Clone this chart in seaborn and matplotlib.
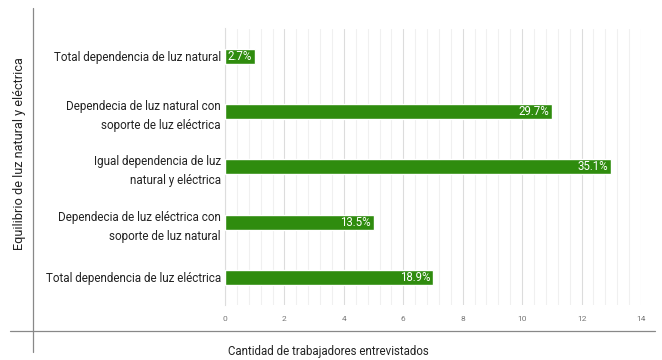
import matplotlib
matplotlib.use("Agg")
import matplotlib.pyplot as plt
from matplotlib.lines import Line2D
from matplotlib.ticker import MultipleLocator
import seaborn as sns
import pandas as pd

categories = [
    "Total dependencia de luz natural",
    "Dependecia de luz natural con\nsoporte de luz eléctrica",
    "Igual dependencia de luz\nnatural y eléctrica",
    "Dependecia de luz eléctrica con\nsoporte de luz natural",
    "Total dependencia de luz eléctrica",
]
counts = [1, 11, 13, 5, 7]
pct_labels = ["2.7%", "29.7%", "35.1%", "13.5%", "18.9%"]
x_ticks = [0, 2, 4, 6, 8, 10, 12, 14]
x_title = "Cantidad de trabajadores entrevistados"
y_title = "Equilibrio de luz natural y eléctrica"

sns.set_theme(style="white")
plt.rcParams["font.family"] = ["Roboto", "DejaVu Sans"]

df = pd.DataFrame({"cat": categories, "n": counts})
green = "#2f8c0e"

fig = plt.figure(figsize=(6.62, 3.6), dpi=100)
W, H = 662, 360
ax = fig.add_axes([225 / W, 1 - 305 / H, (641 - 225) / W, (305 - 28.5) / H])

ax.xaxis.set_minor_locator(MultipleLocator(0.4))
ax.grid(True, axis="x", which="minor", color="#f0f0f0", lw=0.8, zorder=0)
ax.grid(True, axis="x", which="major", color="#dcdcdc", lw=0.8, zorder=0)
ax.set_axisbelow(True)

sns.barplot(data=df, x="n", y="cat", orient="h", color=green, width=0.27,
            saturation=1, ax=ax, zorder=3)

ax.set_xlim(0, 14)
ax.set_ylim(4.5, -0.5)
ax.set_xticks(x_ticks)
ax.set_xticklabels([str(t) for t in x_ticks], fontsize=6, color="#777777")
ax.tick_params(axis="x", which="both", length=0, pad=8)
ax.set_yticks(range(len(categories)))
ax.set_yticklabels(categories, fontsize=8.4, color="#222222", linespacing=1.6)
ax.tick_params(axis="y", length=0, pad=3)
ax.set_yticks([i - 0.5 for i in range(len(categories) + 1)], minor=True)
ax.tick_params(axis="y", which="minor", length=4, color="#cccccc", width=0.8)
ax.set_xlabel("")
ax.set_ylabel("")
for s in ["top", "right", "bottom"]:
    ax.spines[s].set_visible(False)
ax.spines["left"].set_color("#dddddd")
ax.spines["left"].set_linewidth(0.8)

for patch, lab in zip(ax.patches, pct_labels):
    ax.annotate(lab, xy=(patch.get_width(), patch.get_y() + patch.get_height() / 2),
                xytext=(-2, 0), textcoords="offset points", ha="right", va="center",
                color="white", fontsize=8.3, zorder=4)

fig.add_artist(Line2D([33 / W, 33 / W], [1 - 8 / H, 1 - 352 / H], color="#888888", lw=0.9))
fig.add_artist(Line2D([10 / W, 655 / W], [1 - 331 / H, 1 - 331 / H], color="#888888", lw=0.9))
fig.text(328 / W, 1 - 352 / H, x_title, ha="center", va="center", fontsize=8.3, color="#222222")
fig.text(20 / W, 1 - 154 / H, y_title, ha="center", va="center", rotation=90, fontsize=9.2, color="#222222")

fig.savefig("out.png", dpi=100, facecolor="white")
